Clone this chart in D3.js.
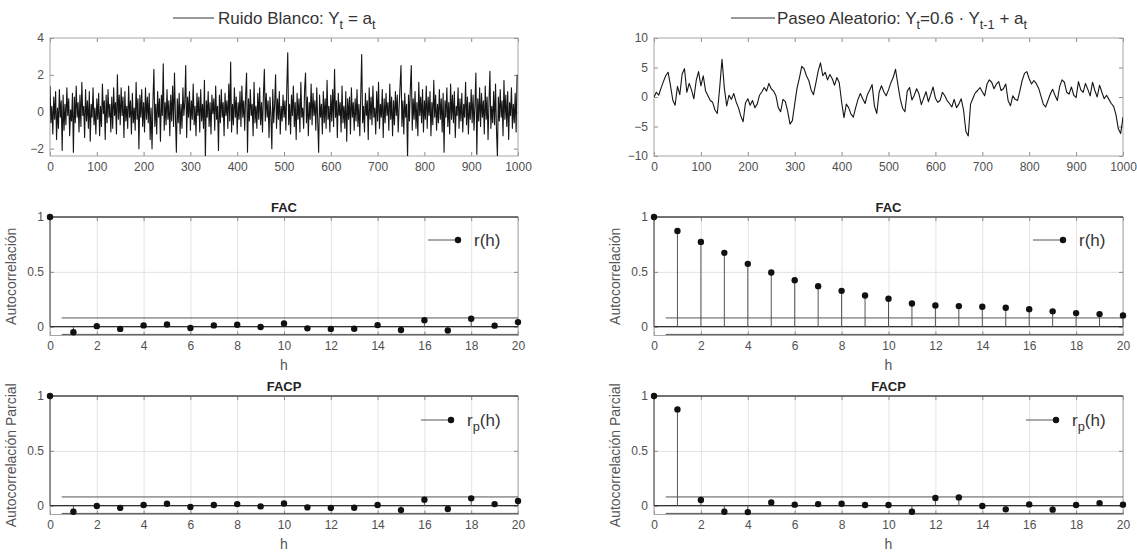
<!DOCTYPE html>
<html>
<head>
<meta charset="utf-8">
<script src="https://cdn.jsdelivr.net/npm/d3@7"></script>
<style>
  body { margin: 0; background: #fff; }
  svg { font-family: "Liberation Sans", Arial, sans-serif; }
  .tick text { fill: #505050; font-size: 12px; }
</style>
</head>
<body>
<svg id="chart" width="1137" height="556"></svg>
<script>
// white noise, one value every 2 time steps
var noiseStep = 2;
var whiteNoise = [
  1.4,-0.6,0.3,-1.2,0.8,-0.4,1.1,-1.5,0.2,-0.9,1.2,-0.3,0.6,-2.1,0.9,-1.0,0.4,-0.7,1.3,-0.2,0.7,-1.3,0.1,-0.5,1.0,
  -2.2,0.8,-0.6,1.4,-0.3,0.5,-1.1,0.9,-0.8,1.6,-0.2,0.3,-1.4,1.2,-0.5,0.6,-0.9,1.1,-1.6,0.4,-0.3,1.3,-0.7,0.2,-1.2,
  0.7,-0.4,1.0,-1.3,0.3,-0.8,1.5,-0.1,0.6,-1.5,0.9,-0.6,1.2,-0.3,0.4,-1.1,0.8,-0.9,1.3,-0.2,0.5,-1.2,2.0,-0.4,0.9,
  -0.7,1.3,-0.2,0.8,-1.4,1.1,-0.5,0.3,-0.9,1.4,-0.3,0.6,-1.2,1.0,-0.6,0.2,-1.0,1.6,-0.4,0.7,-2.0,0.9,-0.3,1.2,-0.8,
  0.5,-1.1,1.3,-0.4,0.8,-0.6,1.0,-1.5,0.2,-2.0,0.6,2.3,-0.8,0.4,-1.2,1.1,-0.3,0.7,-1.6,0.9,-0.2,2.6,-1.0,0.5,-0.7,
  1.2,-0.4,0.6,-1.3,0.9,-0.5,1.4,-0.8,2.1,-0.3,-2.2,0.7,-0.6,1.0,-1.2,0.4,-0.9,1.3,-0.2,0.5,2.5,-1.4,0.8,-0.3,1.1,
  -1.0,0.6,-0.4,1.5,-0.7,0.3,-1.3,1.0,-0.2,0.8,-1.1,1.2,-0.5,0.4,-0.9,1.7,-2.5,0.6,-0.3,1.1,-0.8,0.5,-1.2,0.9,-0.1,
  0.7,-1.0,1.4,-0.4,0.3,-2.1,0.9,-0.6,1.2,-0.3,0.5,-1.3,1.0,-0.2,0.6,-0.9,1.5,-0.5,2.7,-1.1,0.4,-0.7,1.3,-0.3,0.8,
  -1.2,0.5,-0.4,1.1,-0.8,1.4,-0.3,0.6,-1.0,0.9,2.1,-2.2,0.7,-0.5,1.2,-0.2,0.4,-1.3,1.6,-0.6,0.3,-0.9,1.0,-0.4,1.3,
  -0.7,0.5,-1.1,0.9,2.3,-0.5,1.0,-0.3,0.6,-1.4,0.8,-0.2,-2.0,1.2,-0.6,0.4,2.0,-0.9,0.7,-0.4,1.1,-1.2,0.3,-0.5,0.9,
  -0.3,0.6,-1.0,1.3,3.2,-0.7,0.4,-1.2,0.9,-0.2,1.4,-0.8,0.5,-1.5,1.0,-0.4,0.7,-1.1,1.6,-0.3,0.2,-0.9,1.2,2.1,-0.6,
  0.8,-1.3,0.5,-0.4,1.5,-0.7,1.0,-0.2,0.6,-1.0,1.3,-0.5,-2.2,0.9,-0.3,0.4,-1.2,1.1,-0.6,0.7,-0.9,1.7,-0.4,0.3,-1.1,
  0.9,-0.5,1.2,-0.8,2.3,-0.3,0.6,-1.4,1.0,-0.2,0.5,-1.1,1.4,-0.6,0.3,-0.9,1.1,-1.6,0.7,-0.4,0.8,-1.2,1.3,-0.3,0.5,
  -1.0,0.7,-0.5,1.2,-0.8,0.4,-1.3,0.9,3.1,-0.6,0.3,-1.1,1.0,-0.2,0.6,-1.5,1.3,-0.4,0.8,-0.7,1.4,-0.3,0.2,-1.2,1.1,
  -0.5,1.6,-0.9,0.4,-0.3,1.2,-1.4,0.7,-0.6,1.0,-0.2,0.5,-1.0,1.5,-0.4,0.8,-1.3,0.6,-0.7,1.1,-0.2,0.9,-1.1,0.3,1.4,
  2.5,-0.8,0.6,-1.2,1.0,-0.3,0.4,-2.5,0.9,-0.5,1.3,2.5,-1.0,0.7,-0.4,1.1,-0.9,0.5,-1.3,1.6,-0.2,0.8,-0.6,1.2,-1.1,
  0.6,-0.4,1.4,-0.9,0.8,-0.2,1.1,-1.3,0.5,-0.7,1.7,-0.3,0.9,-1.0,0.4,-0.6,1.2,-0.4,0.7,-1.1,1.0,-2.2,0.6,-0.3,1.3,
  -0.8,0.5,-1.2,1.5,-0.4,0.9,-0.6,1.1,-1.4,0.3,-0.2,1.3,-0.9,0.7,-0.5,1.0,-1.1,0.4,-0.3,1.6,-0.7,0.8,-1.2,0.5,-0.4,
  1.2,-0.6,0.9,-1.0,0.4,2.1,-2.3,0.7,-0.5,1.3,-0.8,1.0,-0.3,0.6,-1.2,1.4,-0.4,0.8,-1.5,0.5,2.2,-0.9,0.3,-0.6,1.1,
  -0.7,1.5,-1.0,-2.4,0.8,-0.5,1.2,-0.3,0.6,-1.3,1.7,-0.4,0.9,-0.8,1.1,-1.5,0.5,-0.2,1.3,-0.9,0.4,-0.6,1.0,-1.1,2.0
];

// AR / random walk series, one value every 5 time steps (top-right panel)
var walkStep = 5;
var walkValue = [
  0,0.8,0.3,1.5,2.6,3.6,4.2,2.0,-0.5,-1.4,1.8,0.4,3.9,4.8,0.8,2.3,1.2,-0.3,2.8,4.3,
  1.9,3.6,1.0,0.2,-0.6,-0.9,-2.2,-2.8,1.5,6.4,1.5,-1.5,0.3,-0.4,0.6,-0.8,-1.8,-3.2,-4.2,-1.0,
  -0.3,-1.4,-0.6,-1.8,-1.2,0.3,0.9,1.6,1.0,2.3,1.4,1.0,0.2,-1.8,-2.5,-0.4,-0.8,-2.4,-4.6,-4.0,
  -1.2,1.5,3.2,5.2,4.8,3.6,2.8,1.2,0.4,2.3,4.4,5.8,3.6,4.2,2.9,3.8,3.1,2.0,3.3,2.4,
  -0.8,-3.5,-1.2,-1.8,-2.9,-3.4,-1.8,-0.4,0.6,-0.3,-1.1,0.4,1.2,2.1,-1.5,-2.8,0.8,1.9,0.9,0.2,
  1.2,2.4,3.3,4.7,2.1,-0.3,-1.9,-2.5,1.0,1.6,-0.5,0.3,1.4,0.5,-1.3,-0.2,0.9,-0.8,0.4,1.7,
  -0.2,-0.9,-0.6,0.8,0.2,-0.6,-1.1,-1.7,-0.4,-1.8,-1.2,-0.3,-2.2,-5.8,-6.6,-1.2,-0.2,0.7,1.1,1.6,
  0.9,0.2,2.2,2.9,2.5,1.4,2.2,2.6,1.1,1.4,2.2,-0.6,-1.5,0.2,-0.4,-0.6,1.0,2.8,4.0,4.3,
  3.1,2.2,2.8,2.3,1.5,0.2,-1.2,-1.7,-0.6,0.5,1.3,0.3,-0.6,1.8,2.9,2.5,0.8,0.5,1.7,0.3,
  -0.1,2.6,1.2,0.8,2.3,1.3,0.2,2.5,1.1,0.0,2.0,0.8,-0.3,0.3,-0.4,-1.1,-1.6,-3.0,-5.4,-6.2,
  -3.4
];

var lags = [0,1,2,3,4,5,6,7,8,9,10,11,12,13,14,15,16,17,18,19,20];
var facNoise  = [1,-0.05,0.005,-0.02,0.012,0.02,-0.012,0.012,0.018,-0.003,0.03,-0.015,-0.02,-0.018,0.015,-0.03,0.06,-0.035,0.073,0.01,0.042];
var facpNoise = [1,-0.055,-0.003,-0.02,0.006,0.018,-0.012,0.006,0.015,-0.006,0.02,-0.015,-0.02,-0.018,0.006,-0.04,0.055,-0.03,0.067,0.015,0.043];
var facWalk   = [1,0.873,0.773,0.673,0.573,0.494,0.424,0.37,0.327,0.285,0.255,0.212,0.194,0.188,0.182,0.173,0.16,0.14,0.124,0.115,0.103];
var facpWalk  = [1,0.878,0.052,-0.055,-0.058,0.03,0.01,0.015,0.018,0.006,0.006,-0.055,0.07,0.076,-0.003,-0.033,0.012,-0.036,0.006,0.024,0.01];
var bandLimits = [-0.07, 0.08];

var seriesXTicks = [0,100,200,300,400,500,600,700,800,900,1000];
var noiseYTicks = [-2,0,2,4];
var walkYTicks = [-10,-5,0,5,10];
var lagTicks = [0,2,4,6,8,10,12,14,16,18,20];
var corrYTicks = [0,0.5,1];

var svg = d3.select("#chart");

var cols = [{left: 50, width: 468}, {left: 654, width: 469}];
var rows = [{top: 38, height: 118}, {top: 217, height: 118.5}, {top: 396, height: 118.5}];

function richText(sel, parts, size) {
  var shift = size * 0.32;
  var lastSub = false;
  parts.forEach(function(p) {
    var ts = sel.append("tspan").text(p.t);
    if (p.sub) {
      ts.attr("dy", shift).style("font-size", (size * 0.75) + "px");
    } else if (lastSub) {
      ts.attr("dy", -shift);
    }
    lastSub = !!p.sub;
  });
}

function drawFrame(g, x, y, w, h, xTicks, yTicks, grid) {
  if (grid) {
    g.append("g")
      .attr("transform", "translate(0," + h + ")")
      .call(d3.axisBottom(x).tickValues(xTicks).tickSize(-h).tickFormat(""))
      .call(function(a) { a.select(".domain").remove(); a.selectAll("line").attr("stroke", "#e3e3e3"); });
    g.append("g")
      .call(d3.axisLeft(y).tickValues(yTicks).tickSize(-w).tickFormat(""))
      .call(function(a) { a.select(".domain").remove(); a.selectAll("line").attr("stroke", "#e3e3e3"); });
  }

  var bottom = g.append("g")
    .attr("transform", "translate(0," + h + ")")
    .call(d3.axisBottom(x).tickValues(xTicks).tickSize(-4).tickPadding(6).tickFormat(d3.format("")));
  var top = g.append("g")
    .call(d3.axisTop(x).tickValues(xTicks).tickSize(-4).tickFormat(""));
  var left = g.append("g")
    .call(d3.axisLeft(y).tickValues(yTicks).tickSize(-4).tickPadding(6).tickFormat(d3.format("")));
  var right = g.append("g")
    .attr("transform", "translate(" + w + ",0)")
    .call(d3.axisRight(y).tickValues(yTicks).tickSize(-4).tickFormat(""));

  [bottom, top, left, right].forEach(function(a) {
    a.select(".domain").remove();
    a.selectAll(".tick line").attr("stroke", "#8c8c8c");
  });

  g.append("rect")
    .attr("width", w)
    .attr("height", h)
    .attr("fill", "none")
    .attr("stroke", "#a6a6a6")
    .attr("stroke-width", 1);
}

function drawSeriesPanel(col, points, yDomain, yTicks, titleParts, titleX, lineX0, lineX1, strokeW) {
  var c = cols[col], r = rows[0];
  var g = svg.append("g").attr("transform", "translate(" + c.left + "," + r.top + ")");

  var x = d3.scaleLinear().domain([0, 1000]).range([0, c.width]);
  var y = d3.scaleLinear().domain(yDomain).range([r.height, 0]);

  drawFrame(g, x, y, c.width, r.height, seriesXTicks, yTicks, false);

  var clipId = "clip" + col;
  g.append("clipPath").attr("id", clipId)
    .append("rect").attr("width", c.width).attr("height", r.height);

  var line = d3.line()
    .x(function(d) { return x(d[0]); })
    .y(function(d) { return y(d[1]); });

  g.append("path")
    .datum(points)
    .attr("clip-path", "url(#" + clipId + ")")
    .attr("fill", "none")
    .attr("stroke", "#151515")
    .attr("stroke-width", strokeW)
    .attr("stroke-linejoin", "round")
    .attr("d", line);

  // title drawn as a legend entry
  svg.append("line")
    .attr("x1", lineX0).attr("x2", lineX1)
    .attr("y1", 18).attr("y2", 18)
    .attr("stroke", "#333").attr("stroke-width", 1);
  var t = svg.append("text")
    .attr("x", titleX).attr("y", 24)
    .style("font-size", "17px")
    .attr("fill", "#333");
  richText(t, titleParts, 17);
}

function drawCorrPanel(col, row, values, title, ylabel, legendParts, legendShift) {
  var c = cols[col], r = rows[row];
  var g = svg.append("g").attr("transform", "translate(" + c.left + "," + r.top + ")");

  var x = d3.scaleLinear().domain([0, 20]).range([0, c.width]);
  var y = d3.scaleLinear().domain([-0.08, 1]).range([r.height, 0]);

  drawFrame(g, x, y, c.width, r.height, lagTicks, corrYTicks, true);

  // top edge at 1 and zero line
  g.append("line")
    .attr("x1", x(0)).attr("x2", x(20))
    .attr("y1", y(1)).attr("y2", y(1))
    .attr("stroke", "#555").attr("stroke-width", 1.3);
  g.append("line")
    .attr("x1", x(0)).attr("x2", x(20))
    .attr("y1", y(0)).attr("y2", y(0))
    .attr("stroke", "#333").attr("stroke-width", 1.3);

  // confidence band
  g.selectAll(".band")
    .data(bandLimits)
    .enter().append("line")
    .attr("class", "band")
    .attr("x1", x(0.5)).attr("x2", x(20))
    .attr("y1", function(d) { return y(d); })
    .attr("y2", function(d) { return y(d); })
    .attr("stroke", "#555").attr("stroke-width", 1);

  var data = lags.map(function(h, i) { return {h: h, v: values[i]}; });

  g.selectAll(".stem")
    .data(data)
    .enter().append("line")
    .attr("class", "stem")
    .attr("x1", function(d) { return x(d.h); })
    .attr("x2", function(d) { return x(d.h); })
    .attr("y1", y(0))
    .attr("y2", function(d) { return y(d.v); })
    .attr("stroke", "#555").attr("stroke-width", 1);

  g.selectAll(".dot")
    .data(data)
    .enter().append("circle")
    .attr("class", "dot")
    .attr("cx", function(d) { return x(d.h); })
    .attr("cy", function(d) { return y(d.v); })
    .attr("r", 3.2)
    .attr("fill", "#111");

  g.append("text")
    .attr("x", c.width / 2)
    .attr("y", -5)
    .attr("text-anchor", "middle")
    .style("font-size", "13px")
    .style("font-weight", "bold")
    .attr("fill", "#222")
    .text(title);

  g.append("text")
    .attr("x", c.width / 2)
    .attr("y", r.height + 34)
    .attr("text-anchor", "middle")
    .style("font-size", "14px")
    .attr("fill", "#555")
    .text("h");

  g.append("text")
    .attr("transform", "translate(" + (-34) + "," + (r.height / 2) + ") rotate(-90)")
    .attr("text-anchor", "middle")
    .style("font-size", "14px")
    .attr("fill", "#555")
    .text(ylabel);

  // legend
  var lx = c.width - legendShift;
  var ly = row == 1 ? 23 : 24;
  g.append("line")
    .attr("x1", lx - 30).attr("x2", lx)
    .attr("y1", ly).attr("y2", ly)
    .attr("stroke", "#555").attr("stroke-width", 1);
  g.append("circle")
    .attr("cx", lx).attr("cy", ly).attr("r", 3.2).attr("fill", "#111");
  var lt = g.append("text")
    .attr("x", lx + 16).attr("y", ly + 6)
    .style("font-size", "17px")
    .attr("fill", "#333");
  richText(lt, legendParts, 17);
}

var noisePoints = whiteNoise.map(function(v, i) { return [i * noiseStep, v]; });
var walkPoints = walkValue.map(function(v, i) { return [i * walkStep, v]; });

drawSeriesPanel(0, noisePoints, [-2.4, 4], noiseYTicks,
  [{t: "Ruido Blanco: Y"}, {t: "t", sub: true}, {t: " = a"}, {t: "t", sub: true}], 218, 173, 214, 1.1);
drawSeriesPanel(1, walkPoints, [-10, 10], walkYTicks,
  [{t: "Paseo Aleatorio: Y"}, {t: "t", sub: true}, {t: "=0.6 \u00b7 Y"}, {t: "t-1", sub: true}, {t: " + a"}, {t: "t", sub: true}], 777, 731, 775, 1.1);

drawCorrPanel(0, 1, facNoise, "FAC", "Autocorrelación", [{t: "r(h)"}], 60);
drawCorrPanel(1, 1, facWalk, "FAC", "Autocorrelación", [{t: "r(h)"}], 60);
drawCorrPanel(0, 2, facpNoise, "FACP", "Autocorrelación Parcial", [{t: "r"}, {t: "p", sub: true}, {t: "(h)"}], 67);
drawCorrPanel(1, 2, facpWalk, "FACP", "Autocorrelación Parcial", [{t: "r"}, {t: "p", sub: true}, {t: "(h)"}], 67);
</script>
</body>
</html>
